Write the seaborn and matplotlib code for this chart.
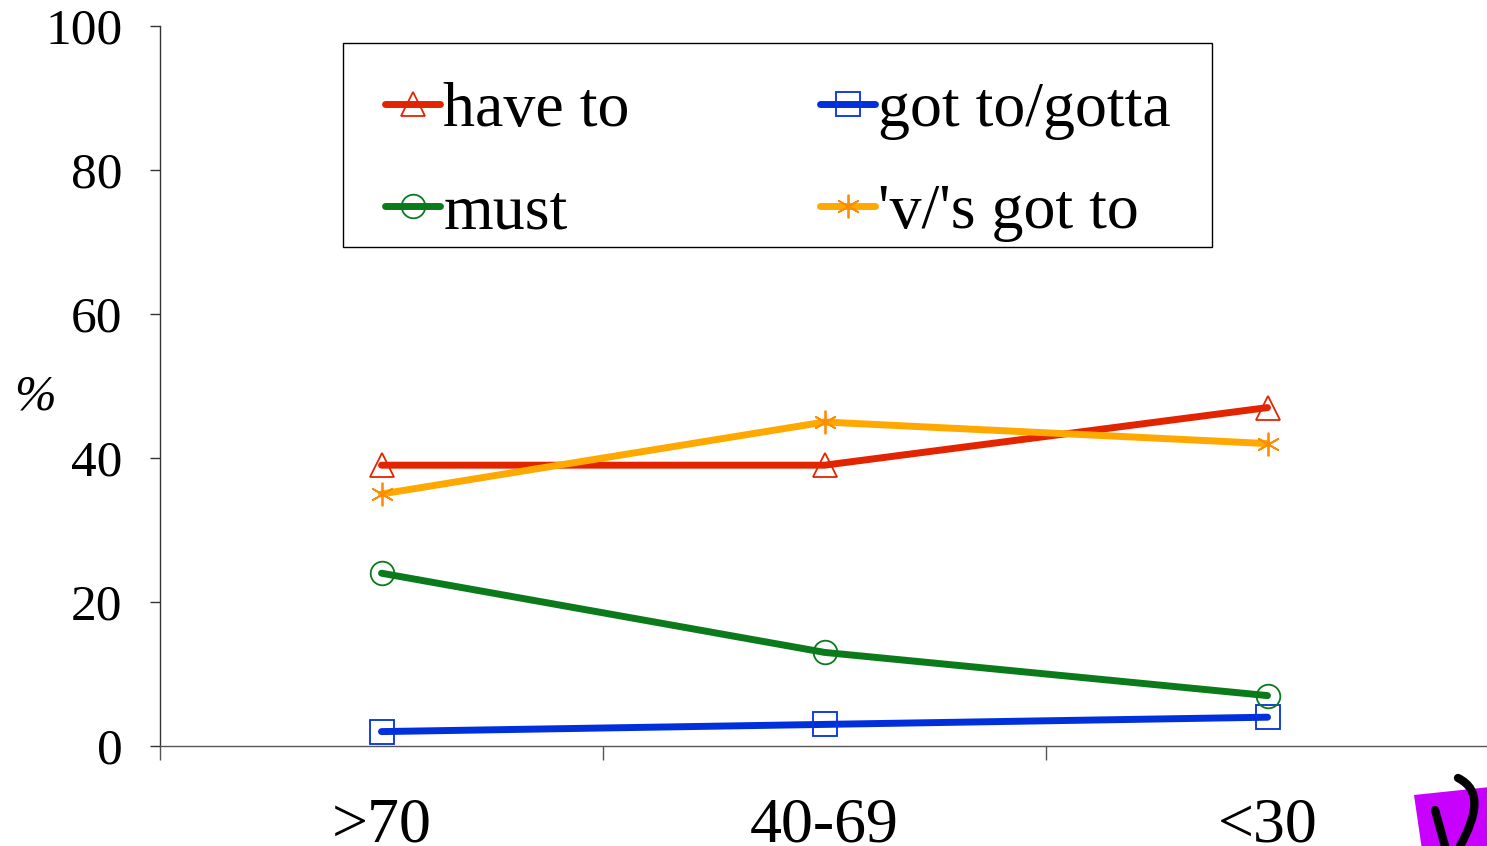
import numpy as np
import pandas as pd
import matplotlib
matplotlib.use('Agg')
import matplotlib.pyplot as plt
from matplotlib.lines import Line2D
from matplotlib.patches import Polygon, PathPatch, Rectangle
from matplotlib.path import Path
import seaborn as sns

# Data
age_groups = ['>70', '40-69', '<30']
have_to = [39, 39, 47]
got_to = [2, 3, 4]
must = [24, 13, 7]
ve_got_to = [35, 45, 42]

series_names = ['have to', 'got to/gotta', 'must', "'v/'s got to"]
series_values = [have_to, got_to, must, ve_got_to]
line_colors = ['#E32400', '#0030DC', '#0A7A1A', '#FFA800']
marker_colors = ['#E32400', '#0030DC', '#0A7A1A', '#FF8C00']
markers = ['^', 's', 'o', (6, 2, 0)]

sns.set_style('ticks')
plt.rcParams['font.family'] = ['Liberation Serif', 'DejaVu Serif']
plt.rcParams['text.color'] = 'black'
plt.rcParams['xtick.labelcolor'] = 'black'
plt.rcParams['ytick.labelcolor'] = 'black'
plt.rcParams['axes.labelcolor'] = 'black'

W, H = 1487, 846
fig = plt.figure(figsize=(W / 100, H / 100), dpi=100)
ax = fig.add_axes([160 / W, 100 / H, 1329 / W, 720 / H])

for name, vals, lc, mc, mk in zip(series_names, series_values, line_colors, marker_colors, markers):
    df = pd.DataFrame({'age': age_groups, 'pct': vals})
    sns.lineplot(data=df, x='age', y='pct', color=lc, linewidth=5,
                 solid_capstyle='round', ax=ax, sort=False)
    ax.plot(df['age'], df['pct'], linestyle='none', marker=mk, markersize=17,
            markerfacecolor='none', markeredgecolor=mc, markeredgewidth=1.3)

ax.set_xlim(-0.5, 2.5)
ax.set_ylim(0, 100)
ax.set_yticks(np.arange(0, 101, 20))
ax.set_xticks(range(len(age_groups)))
ax.set_xticklabels(age_groups)
ax.set_xticks([-0.5, 0.5, 1.5, 2.5], minor=True)
ax.tick_params(axis='x', which='major', length=0, labelsize=46, pad=37)
ax.tick_params(axis='x', which='minor', length=10, width=1, color='#555555')
ax.tick_params(axis='y', length=7, width=1, labelsize=37, pad=20, color='#333333')
ax.set_xlabel('')
ax.set_ylabel('%', rotation=0, fontsize=36, style='italic', va='center')
ax.yaxis.set_label_coords(-0.094, 0.485)

sns.despine(ax=ax)
ax.spines['left'].set_color('#333333')
ax.spines['bottom'].set_color('#555555')
ax.spines['left'].set_linewidth(1)
ax.spines['bottom'].set_linewidth(1)

# legend filled column by column: have to / must, then got to / 'v/'s got to
order = [0, 2, 1, 3]
handles = [Line2D([0], [0], color=line_colors[i], linewidth=5, solid_capstyle='round',
                  marker=markers[i], markersize=17, markerfacecolor='none',
                  markeredgecolor=marker_colors[i], markeredgewidth=1.3)
           for i in order]
leg = fig.legend(handles, [series_names[i] for i in order], loc='upper left',
                 bbox_to_anchor=(361 / W, 1 - 57 / H), borderaxespad=0,
                 ncol=2, fontsize=46, frameon=False,
                 handlelength=0.86, handletextpad=0.05, columnspacing=2.98,
                 labelspacing=0.68, borderpad=0.38)

# legend frame drawn separately so the padding matches the original box
fig.patches.append(Rectangle((343 / W, 1 - 247 / H), (1212 - 343) / W, (247 - 43) / H,
                             facecolor='none', edgecolor='black', linewidth=1,
                             transform=fig.transFigure, figure=fig))

# stray purple mark in the bottom-right corner
px = lambda x, y: (x / W, 1 - y / H)
fig.patches.append(Polygon([px(1414, 795), px(1490, 787), px(1490, 850), px(1422, 850)],
                           closed=True, facecolor='#C800FF', edgecolor='none',
                           transform=fig.transFigure, figure=fig))
for pts in ([(1458, 778), (1482, 790), (1477, 815), (1460, 846)],
            [(1435, 810), (1440, 828), (1445, 846)]):
    codes = [Path.MOVETO] + [Path.CURVE4] * 3 if len(pts) == 4 else [Path.MOVETO, Path.CURVE3, Path.CURVE3]
    fig.patches.append(PathPatch(Path([px(*p) for p in pts], codes), facecolor='none',
                                 edgecolor='black', linewidth=6, capstyle='round',
                                 transform=fig.transFigure, figure=fig))

fig.savefig('out.png', dpi=100)
